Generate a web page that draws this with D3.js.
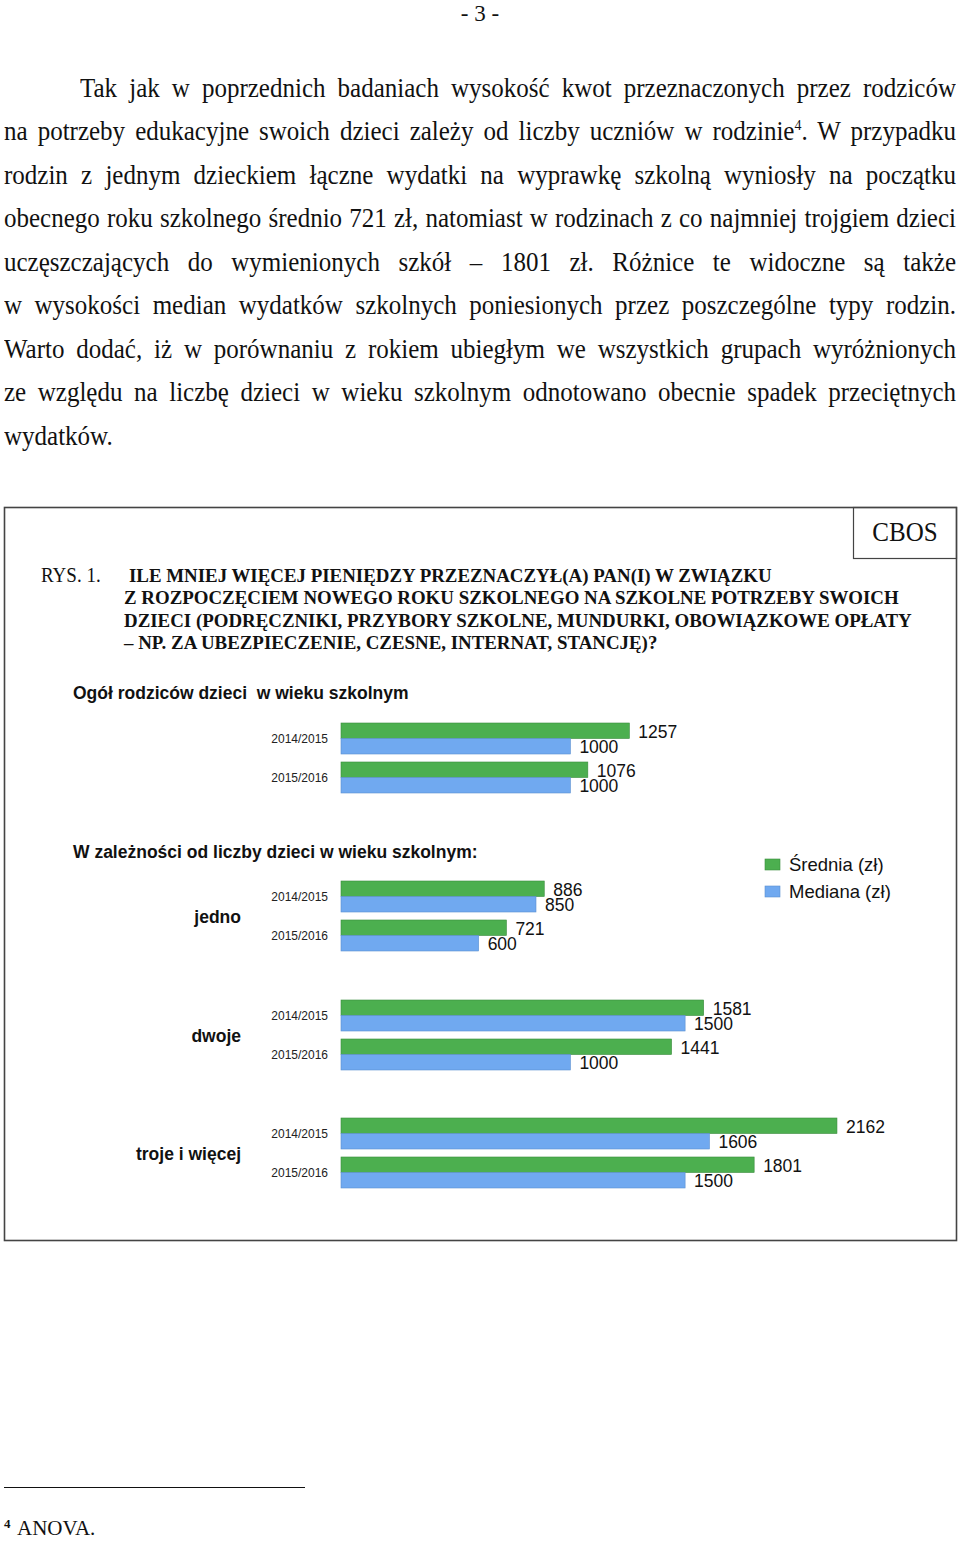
<!DOCTYPE html>
<html><head><meta charset="utf-8">
<script src="https://cdn.jsdelivr.net/npm/d3@7"></script>
<style>
html,body{margin:0;padding:0;background:#fff;}
body{width:960px;height:1541px;position:relative;overflow:hidden;}
.ln{position:absolute;left:4px;width:952px;font-family:"Liberation Serif","Times New Roman",serif;font-size:25px;line-height:43.5px;height:43.5px;text-align:justify;text-align-last:justify;color:#111;transform:scaleY(1.08);transform-origin:0 30px;}
.ln.last{text-align-last:left;}
.ln sup{font-size:14px;vertical-align:9px;line-height:0;}
svg{position:absolute;left:0;top:0;}
</style></head>
<body>
<script>
// ---- data ----
const years = ["2014/2015", "2015/2016"];
const series = ["Średnia (zł)", "Mediana (zł)"];
const groupLabels = ["", "jedno", "dwoje", "troje i więcej"];
const srednia = [[1257, 1076], [886, 721], [1581, 1441], [2162, 1801]];
const mediana = [[1000, 1000], [850, 600], [1500, 1000], [1606, 1500]];
const sectionTitles = ["Ogół rodziców dzieci  w wieku szkolnym", "W zależności od liczby dzieci w wieku szkolnym:"];
const figTitle = ["ILE MNIEJ WIĘCEJ PIENIĘDZY PRZEZNACZYŁ(A) PAN(I) W ZWIĄZKU",
  "Z ROZPOCZĘCIEM NOWEGO ROKU SZKOLNEGO NA SZKOLNE POTRZEBY SWOICH",
  "DZIECI (PODRĘCZNIKI, PRZYBORY SZKOLNE, MUNDURKI, OBOWIĄZKOWE OPŁATY",
  "– NP. ZA UBEZPIECZENIE, CZESNE, INTERNAT, STANCJĘ)?"];
const bodyLines = [
  "Tak jak w poprzednich badaniach wysokość kwot przeznaczonych przez rodziców",
  "na potrzeby edukacyjne swoich dzieci zależy od liczby uczniów w rodzinie<sup>4</sup>. W przypadku",
  "rodzin z jednym dzieckiem łączne wydatki na wyprawkę szkolną wyniosły na początku",
  "obecnego roku szkolnego średnio 721 zł, natomiast w rodzinach z co najmniej trojgiem dzieci",
  "uczęszczających do wymienionych szkół – 1801 zł. Różnice te widoczne są także",
  "w wysokości median wydatków szkolnych poniesionych przez poszczególne typy rodzin.",
  "Warto dodać, iż w porównaniu z rokiem ubiegłym we wszystkich grupach wyróżnionych",
  "ze względu na liczbę dzieci w wieku szkolnym odnotowano obecnie spadek przeciętnych",
  "wydatków."
];
const colors = {"Średnia (zł)": "#4caf4f", "Mediana (zł)": "#70a9f0"};
const strokes = {"Średnia (zł)": "#3a8c3c", "Mediana (zł)": "#5a8fd0"};

// ---- body text ----
d3.select("body").selectAll("div.ln").data(bodyLines).enter().append("div")
  .attr("class", (d, i) => "ln" + (i === bodyLines.length - 1 ? " last" : ""))
  .style("top", (d, i) => (66.5 + i * 43.5) + "px")
  .style("left", (d, i) => i === 0 ? "80px" : "4px")
  .style("width", (d, i) => i === 0 ? "876px" : "952px")
  .html(d => d);

const svg = d3.select("body").append("svg").attr("width", 960).attr("height", 1541);
const serif = '"Liberation Serif","Times New Roman",serif';
const sans = '"Liberation Sans",Arial,sans-serif';

// page number
svg.append("text").attr("x", 480).attr("y", 21).attr("text-anchor", "middle")
  .attr("font-family", serif).attr("font-size", 23).attr("fill", "#111").text("- 3 -");

// chart frame
svg.append("rect").attr("x", 4.5).attr("y", 507.5).attr("width", 952).attr("height", 733)
  .attr("fill", "none").attr("stroke", "#444").attr("stroke-width", 1.6);
svg.append("rect").attr("x", 853.5).attr("y", 507.5).attr("width", 103).attr("height", 51)
  .attr("fill", "none").attr("stroke", "#444").attr("stroke-width", 1.2);
svg.append("text").attr("transform", "translate(905,541) scale(1,1.1)").attr("text-anchor", "middle")
  .attr("font-family", serif).attr("font-size", 25).attr("fill", "#111").text("CBOS");

// figure title
svg.append("text").attr("transform", "translate(41,582) scale(1,1.05)")
  .attr("font-family", serif).attr("font-size", 19).attr("fill", "#111").text("RYS. 1.");
svg.selectAll("text.ft").data(figTitle).enter().append("text").attr("class", "ft")
  .attr("transform", (d, i) => `translate(${i === 0 ? 129 : 124},${582 + i * 22.4}) scale(1,1.05)`)
  .attr("font-family", serif).attr("font-size", 18.9).attr("font-weight", "bold").attr("fill", "#111")
  .text(d => d);

// section titles
const secY = [699, 858];
svg.selectAll("text.sec").data(sectionTitles).enter().append("text").attr("class", "sec")
  .attr("x", 73).attr("y", (d, i) => secY[i]).attr("font-family", sans).attr("font-size", 17.5)
  .attr("font-weight", "bold").attr("fill", "#111").style("white-space", "pre").text(d => d);

// scales
const x = d3.scaleLinear().domain([0, 2200]).range([341, 341 + 2200 * 0.2294]);
const groupTop = [723, 881, 1000, 1118];
const yYear = d3.scaleBand().domain(years).range([0, 70]).paddingInner(0.205).paddingOuter(0);
const ySer = d3.scaleBand().domain(series).range([0, yYear.bandwidth()]);

groupLabels.forEach((gl, gi) => {
  const g = svg.append("g").attr("transform", `translate(0,${groupTop[gi]})`);
  if (gl) {
    g.append("text").attr("x", 241).attr("y", 36).attr("dy", "0.35em").attr("text-anchor", "end")
      .attr("font-family", sans).attr("font-size", 17.5).attr("font-weight", "bold").attr("fill", "#111").text(gl);
  }
  years.forEach((yr, yi) => {
    const yy = yYear(yr);
    const yc = yy + yYear.bandwidth() / 2;
    g.append("text").attr("x", 328).attr("y", yc).attr("dy", "0.35em")
      .attr("text-anchor", "end").attr("font-family", sans).attr("font-size", 12).attr("fill", "#222")
      .attr("transform", `translate(0,${yc}) scale(1,1.12) translate(0,${-yc})`)
      .text(yr);
    const vals = [srednia[gi][yi], mediana[gi][yi]];
    series.forEach((s, si) => {
      const v = vals[si];
      g.append("rect").attr("x", x(0)).attr("y", yy + ySer(s)).attr("width", x(v) - x(0))
        .attr("height", ySer.bandwidth()).attr("fill", colors[s]).attr("stroke", strokes[s]).attr("stroke-width", 0.6);
      g.append("text").attr("x", x(v) + 9).attr("y", yy + ySer(s) + ySer.bandwidth() / 2 + 1).attr("dy", "0.35em")
        .attr("font-family", sans).attr("font-size", 17.5).attr("fill", "#111").text(v);
    });
  });
});

// legend
const leg = svg.append("g").attr("transform", "translate(765,858)");
series.forEach((s, i) => {
  leg.append("rect").attr("x", 0).attr("y", i * 27 + 1).attr("width", 15).attr("height", 11)
    .attr("fill", colors[s]).attr("stroke", strokes[s]).attr("stroke-width", 0.6);
  leg.append("text").attr("x", 24).attr("y", i * 27 + 6.5).attr("dy", "0.35em")
    .attr("font-family", sans).attr("font-size", 18.5).attr("fill", "#111").text(s);
});

// footnote
svg.append("line").attr("x1", 4).attr("x2", 305).attr("y1", 1487.5).attr("y2", 1487.5)
  .attr("stroke", "#111").attr("stroke-width", 1.2);
svg.append("text").attr("x", 4).attr("y", 1528).attr("font-family", serif).attr("font-size", 13)
  .attr("font-weight", "bold").attr("fill", "#111").text("4");
svg.append("text").attr("x", 17).attr("y", 1535).attr("font-family", serif)
  .attr("font-size", 21).attr("fill", "#111").text("ANOVA.");
</script>
</body></html>
